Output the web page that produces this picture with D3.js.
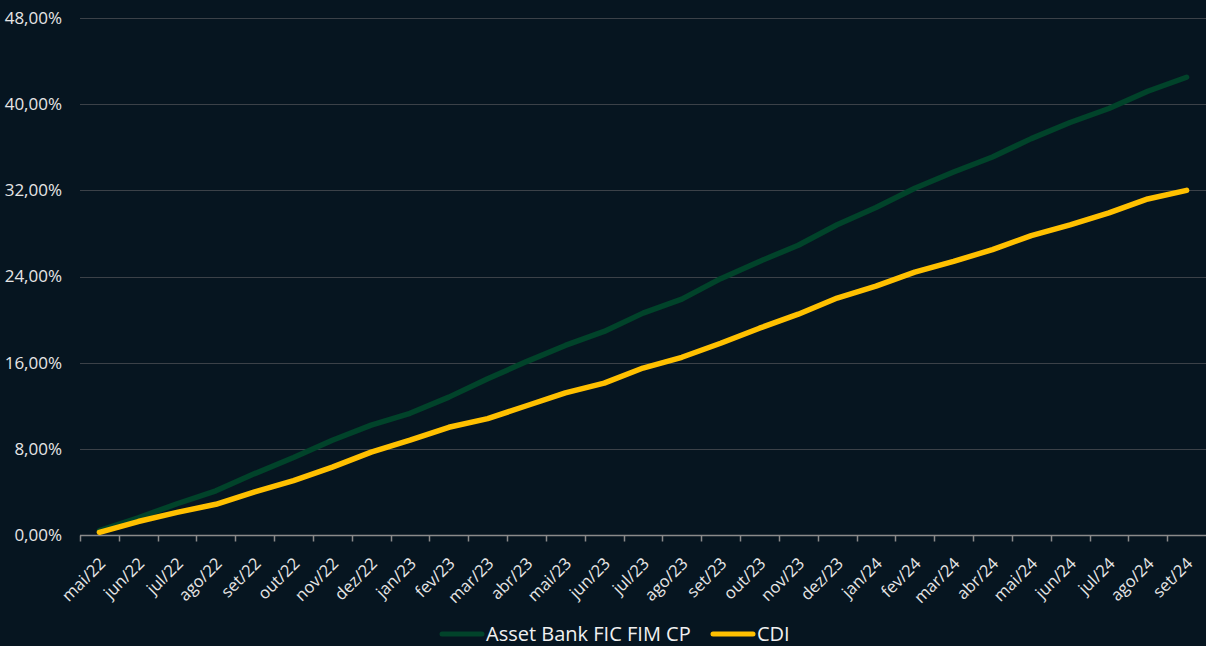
<!DOCTYPE html>
<html>
<head>
<meta charset="utf-8">
<script src="https://cdn.jsdelivr.net/npm/d3@7"></script>
<style>
  html, body { margin: 0; padding: 0; background: #061520; }
  svg { display: block; font-family: "Open Sans", Lato, sans-serif; }
</style>
</head>
<body>
<div id="container"></div>
<script>
// ==================== data ==================== //

const months = [
  "mai/22", "jun/22", "jul/22", "ago/22", "set/22", "out/22", "nov/22", "dez/22",
  "jan/23", "fev/23", "mar/23", "abr/23", "mai/23", "jun/23", "jul/23", "ago/23",
  "set/23", "out/23", "nov/23", "dez/23", "jan/24", "fev/24", "mar/24", "abr/24",
  "mai/24", "jun/24", "jul/24", "ago/24", "set/24"
];

// accumulated return, %
const assetBank = [
  0.4, 1.6, 2.9, 4.1, 5.7, 7.2, 8.8, 10.2,
  11.3, 12.8, 14.5, 16.1, 17.6, 18.9, 20.6, 21.9,
  23.8, 25.4, 26.9, 28.8, 30.4, 32.2, 33.7, 35.1,
  36.8, 38.3, 39.6, 41.2, 42.5
];

const cdi = [
  0.25, 1.25, 2.1, 2.85, 4.0, 5.05, 6.3, 7.7,
  8.8, 10.0, 10.8, 12.0, 13.2, 14.1, 15.5, 16.5,
  17.8, 19.2, 20.5, 22.0, 23.1, 24.4, 25.4, 26.5,
  27.8, 28.8, 29.9, 31.2, 32.0
];

const yTicks = [0, 8, 16, 24, 32, 40, 48];

const series = [
  { name: "Asset Bank FIC FIM CP", values: assetBank, color: "#01432a" },
  { name: "CDI", values: cdi, color: "#ffc000" }
];

// ==================== chart ==================== //

const width = 1206, height = 646;
const margin = { top: 18, right: 0, bottom: 111, left: 80 };

const svg = d3.select("#container")
  .append("svg")
  .attr("width", width)
  .attr("height", height);

svg.append("rect")
  .attr("width", width)
  .attr("height", height)
  .attr("fill", "#061520");

const x = d3.scaleBand()
  .domain(months)
  .range([margin.left, width - margin.right]);

const y = d3.scaleLinear()
  .domain([0, 48])
  .range([height - margin.bottom, margin.top]);

const fmt = v => d3.format(".2f")(v).replace(".", ",") + "%";

// grid
svg.append("g")
  .selectAll("line")
  .data(yTicks.filter(t => t > 0))
  .join("line")
  .attr("x1", margin.left)
  .attr("x2", width - margin.right)
  .attr("y1", d => Math.round(y(d)) + 0.5)
  .attr("y2", d => Math.round(y(d)) + 0.5)
  .attr("stroke", "#3b4148")
  .attr("stroke-width", 1);

// y labels
svg.append("g")
  .selectAll("text")
  .data(yTicks)
  .join("text")
  .attr("x", 62)
  .attr("y", d => y(d))
  .attr("dy", "0.35em")
  .attr("text-anchor", "end")
  .attr("fill", "#e6e6e6")
  .attr("font-size", 17)
  .text(fmt);

// x axis
const xAxis = svg.append("g")
  .attr("transform", `translate(0,${Math.round(y(0)) + 0.5})`);

xAxis.append("line")
  .attr("x1", margin.left)
  .attr("x2", width - margin.right)
  .attr("stroke", "#8a8a8a")
  .attr("stroke-width", 1.5);

xAxis.selectAll("line.tick")
  .data(months)
  .join("line")
  .attr("class", "tick")
  .attr("x1", d => Math.round(x(d)) + 0.5)
  .attr("x2", d => Math.round(x(d)) + 0.5)
  .attr("y1", 0)
  .attr("y2", 6)
  .attr("stroke", "#8a8a8a")
  .attr("stroke-width", 1.5);

xAxis.selectAll("text")
  .data(months)
  .join("text")
  .attr("transform", d => `translate(${x(d) + x.bandwidth() / 2 + 3},${25}) rotate(-45)`)
  .attr("text-anchor", "end")
  .attr("dy", "0.35em")
  .attr("fill", "#e6e6e6")
  .attr("font-size", 16.5)
  .text(d => d);

// lines
const line = d3.line()
  .x((d, i) => x(months[i]) + x.bandwidth() / 2)
  .y(d => y(d));

svg.append("g")
  .selectAll("path")
  .data(series)
  .join("path")
  .attr("d", d => line(d.values))
  .attr("fill", "none")
  .attr("stroke", d => d.color)
  .attr("stroke-width", 5.5)
  .attr("stroke-linejoin", "round")
  .attr("stroke-linecap", "round");

// legend
const legend = svg.append("g").attr("transform", "translate(0,634)");
const legendItems = [
  { s: series[0], x: 440 },
  { s: series[1], x: 711 }
];
legendItems.forEach(item => {
  legend.append("line")
    .attr("x1", item.x + 2)
    .attr("x2", item.x + 42)
    .attr("stroke", item.s.color)
    .attr("stroke-width", 5)
    .attr("stroke-linecap", "round");
  legend.append("text")
    .attr("x", item.x + 46)
    .attr("dy", "0.35em")
    .attr("fill", "#f0f0f0")
    .attr("font-size", 20)
    .text(item.s.name);
});
</script>
</body>
</html>
